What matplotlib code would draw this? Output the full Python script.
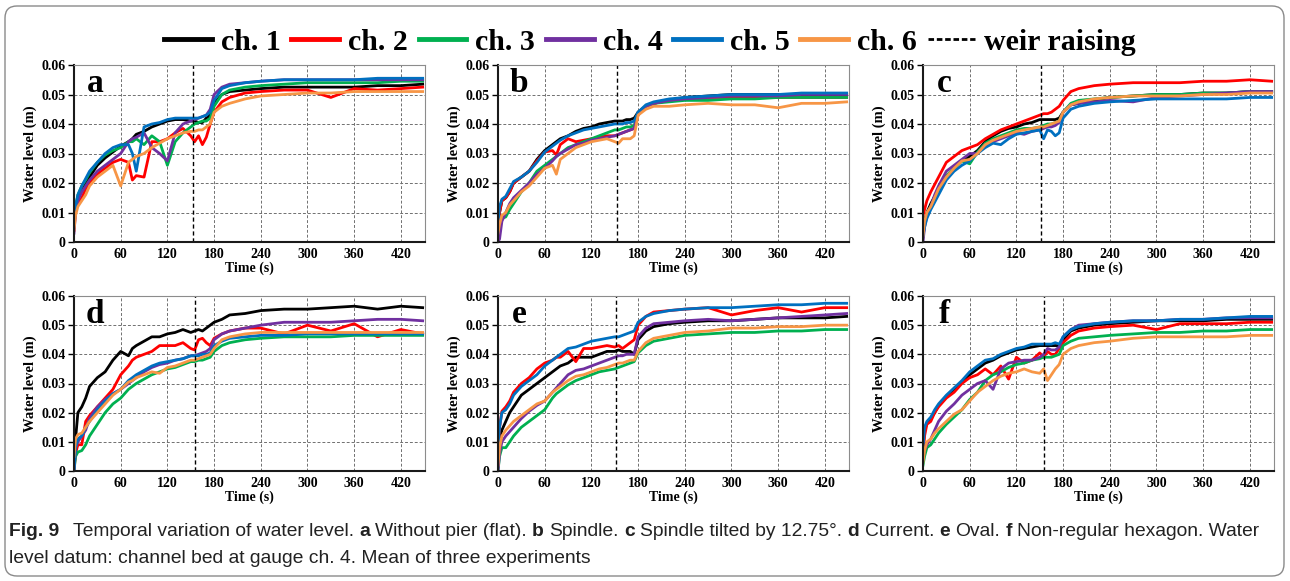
import matplotlib
matplotlib.use("Agg")
import matplotlib.pyplot as plt
from matplotlib.lines import Line2D
from matplotlib.patches import FancyBboxPatch
from matplotlib.transforms import IdentityTransform
from matplotlib.ticker import FuncFormatter

# time grid (s) shared by every curve, water levels in mm
TIME = [0, 2, 5, 10, 15, 20, 30, 40, 50, 60, 70, 75, 80, 90, 100, 110, 120, 130, 140,
        150, 155, 160, 165, 170, 175, 180, 190, 200, 220, 240, 270, 300, 330, 360,
        390, 420, 448]

# a - without pier (flat)
A1 = [5, 12, 15, 18, 20, 22, 26, 28.5, 30.5, 32.5, 34, 35, 36.5, 37.5, 39, 40, 41, 41.5, 41.5,
      41, 41, 40.5, 40.5, 42, 43, 47, 50, 51, 51.5, 52, 52.5, 52.5, 52.5, 52.5, 53, 53, 53.5]
A2 = [4, 11, 13, 15, 18, 20, 23, 25, 27, 28, 27, 21, 22.5, 22, 34, 34, 35, 37, 38.5,
      36, 34, 36, 33, 35.5, 40, 44, 47.5, 49, 50.5, 51, 51.5, 51.5, 49, 52, 51.5, 52, 52.5]
A3 = [5, 12, 16, 19, 21, 23.5, 27, 29.5, 31, 32, 34, 34, 35, 33, 36, 34, 26, 34, 37,
      39, 40, 40.5, 41, 41, 42, 46, 50, 51.5, 52.5, 53, 53.5, 54, 54, 54, 54, 54.5, 54.5]
A4 = [3, 10, 14, 17, 19, 21, 24, 26, 28, 30, 34, 35, 35.5, 37, 32, 30, 27.5, 37, 40,
      41, 41.5, 42, 42.5, 43, 45, 50, 52.5, 53.5, 54, 54.5, 55, 55, 55, 55, 55, 55, 55]
A5 = [6, 12, 16, 19, 21.5, 24, 27, 30, 32, 33, 33, 30, 24, 39, 40, 40.5, 41.5, 42, 42,
      42, 42, 42, 42.5, 43, 44, 48, 52, 53, 54, 54.5, 55, 55, 55, 55, 55.5, 55.5, 55.5]
A6 = [4, 9, 12, 14, 16, 19, 22, 24, 26, 19, 27, 28, 29, 30, 32, 33.5, 35, 36, 37,
      37.5, 37.5, 38, 38, 39, 40, 44, 46, 47, 48.5, 49.5, 50, 50.5, 50.5, 51, 51, 51, 51]

# b - spindle
B1 = [3, 10, 14, 15, 17, 20, 22, 24, 28, 31, 33, 34, 35, 36, 37.5, 38.5, 39, 40, 40.5,
      41, 41, 41, 41.5, 41.5, 42, 44, 46, 47, 48, 49, 49.5, 50, 50, 50, 50, 50, 50]
B2 = [3, 10, 14, 15, 17, 20, 22, 24, 27.5, 30.5, 31, 29.5, 33, 35, 34, 34.5, 35, 35.5, 36,
      36, 36.5, 37, 37.5, 38, 38.5, 43, 46, 47, 48, 48.5, 49, 49, 49, 49, 49, 49, 49]
B3 = [1, 5, 8, 8.5, 11, 13, 17, 20, 24, 26, 28, 29, 30, 32, 33, 34, 35, 36, 37,
      38, 38, 38.5, 39, 39, 39.5, 44, 46, 47, 47.5, 48, 48, 48.5, 48.5, 49, 49, 49, 49]
B4 = [0, 1, 7, 10, 13, 15, 17.5, 20, 23, 25, 27.5, 29, 30, 31.5, 33, 33.5, 34.5, 35, 35.5,
      36, 36.5, 37, 37.5, 38, 38.5, 44, 46, 47, 48, 48.5, 49, 49.5, 49.5, 49.5, 50, 50, 50]
B5 = [6, 12, 14.5, 15.5, 18, 20.5, 22, 24, 27, 30.5, 32.5, 33.5, 34.5, 36, 37, 38, 38.5, 39, 39.5,
      40, 40, 40, 40.5, 40.5, 41, 44, 46.5, 47.5, 48.5, 49, 49.5, 50, 50, 50, 50.5, 50.5, 50.5]
B6 = [3, 6, 9, 10, 12.5, 14, 17, 19, 22, 25, 26, 23, 28, 30, 32, 33, 34, 34.5, 35,
      34, 33.5, 35, 35, 35, 36, 43, 45, 46, 46, 46.5, 47, 46.5, 46.5, 45.5, 47, 47, 47.5]

# c - spindle tilted by 12.75 deg
C1 = [2, 7, 10, 13, 15.5, 18, 22, 25, 27.5, 29, 31, 32.5, 34, 36, 37.5, 38.5, 39, 40, 40.5,
      41.5, 41.5, 41.5, 41.5, 41.5, 42, 44, 46.5, 47, 48, 49, 49.5, 50, 50, 50.5, 50.5, 51, 51]
C2 = [9, 11, 14, 17, 19.5, 22, 27, 29, 31, 32, 33, 34, 35, 36.5, 38, 39, 40, 41, 42,
      43, 43.5, 43.5, 44, 45, 46, 48, 51, 52, 53, 53.5, 54, 54, 54, 54.5, 54.5, 55, 54.5]
C3 = [2, 6, 9, 12, 15, 18, 22.5, 25, 27.5, 26.5, 30.5, 32, 33.5, 35, 36, 37, 38, 38.5, 38.5,
      39, 39.5, 40, 40, 40.5, 41, 44, 47, 48, 48.5, 49, 49.5, 50, 50, 50.5, 50.5, 51, 51]
C4 = [0, 5, 9, 12, 16, 19, 24, 26, 28, 30, 30, 31.5, 33, 34, 35, 36, 37, 36.5, 37.5,
      38, 38.5, 39, 39, 39.5, 40.5, 44, 46.5, 47, 47.5, 48, 47.5, 49, 49.5, 50, 50.5, 51, 51]
C5 = [2, 5, 8, 11, 13.5, 16, 21, 24, 26, 27.5, 30, 31, 32, 33.5, 33, 35, 36.5, 37, 37.5,
      38, 35, 38, 37.5, 36, 37, 42, 45, 46, 47, 47.5, 48, 48.5, 48.5, 48.5, 48.5, 49, 49]
C6 = [2, 7, 10, 12, 15, 18, 22, 25, 27.5, 28, 30, 31.5, 33, 34.5, 35.5, 36.5, 37.5, 38, 38.5,
      39, 39, 39.5, 40, 40.5, 41, 44, 46.5, 47.5, 48.5, 49, 49.5, 49.5, 49.5, 50, 50, 50.5, 50.5]

# d - current
D1 = [5, 11, 20, 22, 25, 29, 32, 34, 38, 41, 39.5, 42, 43, 44.5, 46, 46, 47, 47.5, 48.5,
      47.5, 48, 48.5, 48, 49, 50, 51, 52, 53.5, 54, 55, 55.5, 55.5, 56, 56.5, 55.5, 56.5, 56]
D2 = [0, 6, 9, 9, 17, 19, 22, 25, 28, 33, 36, 38, 39, 40, 41, 43, 43, 43, 44,
      42, 41.5, 45, 45.5, 44, 43, 45.5, 47, 48, 49, 49, 47, 50, 48, 50.5, 46, 48.5, 47]
D3 = [0, 5, 6.5, 7, 9, 12, 16, 20, 23, 25, 28, 29, 30, 31.5, 33, 34, 35, 35.5, 36.5,
      37.5, 37.5, 38, 38, 38.5, 39, 41, 43, 44, 45, 45.5, 46, 46, 46, 46.5, 46.5, 46.5, 46.5]
D4 = [0, 8, 10, 12, 14, 18, 22, 24.5, 26.5, 28, 30, 31, 32, 34, 35.5, 36.5, 37, 38, 38.5,
      39.5, 39.5, 40, 40.5, 41, 42, 45, 47, 48, 49, 50, 51, 51, 51, 51.5, 52, 52, 51.5]
D5 = [0, 8, 11, 12, 15, 17, 21, 24, 26.5, 28, 31, 32, 33, 34.5, 36, 37, 37.5, 38, 38.5,
      39.5, 39.5, 39.5, 40, 40, 40.5, 43, 44.5, 45.5, 46, 46.5, 46.5, 47, 47, 47, 47, 47, 47]
D6 = [5, 11, 12.5, 13, 15, 17, 20, 23, 26, 28, 30.5, 31, 32, 33, 34, 33.5, 35.5, 36, 37,
      38, 38, 38.5, 39, 39.5, 40, 42, 45, 46, 47, 47.5, 47.5, 47.5, 47.5, 47.5, 47.5, 47.5, 47.5]

# e - oval
E1 = [5, 11, 14, 17, 20, 22, 26, 28, 30, 32, 34, 35, 36, 37, 39, 39, 39, 40, 41,
      41, 41.5, 41, 41, 41, 40, 45, 48, 49.5, 50.5, 51, 51.5, 51.5, 52, 52.5, 52.5, 52.5, 53]
E2 = [8, 15, 20.5, 22, 24, 27, 30, 32, 35, 37, 38, 39, 39, 41, 37.5, 42, 42, 42.5, 43,
      42.5, 43, 42, 43, 44, 45, 50, 53, 54.5, 55, 55.5, 56, 53.5, 55, 56, 54.5, 56, 56]
E3 = [0, 5, 8, 8, 10, 12, 15, 17, 19, 21, 25, 26.5, 27.5, 29.5, 31, 32, 33, 34, 34.5,
      35, 35.5, 36, 36.5, 37, 37.5, 40.5, 43, 44.5, 45.5, 46.5, 47, 47.5, 47.5, 48, 48, 48.5, 48.5]
E4 = [0, 6, 10, 12, 13.5, 15, 18, 20.5, 22.5, 24, 27, 28.5, 30, 33, 34.5, 35, 36, 37, 38,
      39, 39.5, 39.5, 40, 40, 40, 46, 49, 50.5, 51, 51.5, 52, 51.5, 52, 52.5, 53, 53.5, 54]
E5 = [8, 15, 20, 21, 23, 26, 29, 31, 33, 36, 38, 39, 40, 42, 42.5, 43.5, 44.5, 45, 45.5,
      46, 46, 46.5, 47, 47.5, 48, 51, 53, 54, 55, 55.5, 56, 56, 56.5, 57, 57, 57.5, 57.5]
E6 = [2, 8, 12, 14, 15.5, 17, 19, 21, 23, 24, 27, 28, 29, 31, 32.5, 33, 34, 35, 35.5,
      36.5, 37, 37, 37.5, 38, 38, 41, 44, 45.5, 46.5, 47.5, 48, 49, 49, 49.5, 49.5, 50, 50]

# f - non-regular hexagon
F1 = [8, 14, 16.5, 18, 20, 22.5, 25.5, 28, 30.5, 33, 35, 36, 37, 38, 39.5, 40.5, 41.5, 42, 42.5,
      43, 43, 43, 43, 43, 43, 45, 48, 49, 50, 50.5, 51, 51.5, 51.5, 51.5, 52, 52, 52]
F2 = [5, 12, 16, 17, 20, 22, 25, 27, 30, 32, 33, 34, 35, 33, 36, 31.5, 39, 37, 38,
      40.5, 39, 41, 40, 40, 42, 44, 46.5, 48, 49, 49.5, 50, 48.5, 50.5, 50.5, 50.5, 51, 51]
F3 = [2, 5, 8, 9, 11, 13, 16, 18.5, 21, 24.5, 27, 29, 31, 33, 34, 35.5, 36.5, 37, 38,
      38.5, 39, 39, 39, 39.5, 40, 43, 44.5, 45.5, 46, 46.5, 47, 47.5, 47.5, 48, 48, 48.5, 48.5]
F4 = [4, 7, 9, 11, 14, 17, 20.5, 23, 26, 28, 30, 30.5, 31, 28, 35, 37, 37.5, 38, 38,
      39, 40, 42, 41.5, 41.5, 42.5, 46, 48.5, 50, 50.5, 51, 51.5, 51.5, 52, 52, 52.5, 52.5, 52.5]
F5 = [8, 15, 17, 18.5, 21, 23, 26, 28.5, 31, 34, 36, 37, 38, 38.5, 40, 41, 42, 42.5, 43.5,
      43.5, 43.5, 43.5, 43.5, 44, 43.5, 46, 48.5, 49.5, 50.5, 51, 51.5, 51.5, 52, 52, 52.5, 53, 53]
F6 = [3, 7, 10, 11, 13, 14.5, 17, 19.5, 21, 24, 27, 28, 29, 31, 32.5, 33.5, 34, 35, 34,
      33.5, 35, 31, 33, 35, 36.5, 40, 42, 43, 44, 44.5, 45.5, 46, 46, 46, 46, 46.5, 46.5]

WEIR_T = [153, 153, 152, 155, 151, 155]
LETTERS = ["a", "b", "c", "d", "e", "f"]
LABELS = ["ch. 1", "ch. 2", "ch. 3", "ch. 4", "ch. 5", "ch. 6", "weir raising"]
COLORS = ["#000000", "#ff0000", "#00b050", "#7030a0", "#0070c0", "#f79646"]

SERIF = "Liberation Serif"
CAP_FONT = ["Liberation Sans", "DejaVu Sans"]

W, H = 1290, 581
fig = plt.figure(figsize=(W / 100, H / 100), dpi=100)

# axes boxes in pixels: left, top, width, height
lefts = [74, 498, 923]
tops = [65, 296]
heights = [177, 175]
aw = 351

all_series = [[A1, A2, A3, A4, A5, A6], [B1, B2, B3, B4, B5, B6], [C1, C2, C3, C4, C5, C6],
              [D1, D2, D3, D4, D5, D6], [E1, E2, E3, E4, E5, E6], [F1, F2, F3, F4, F5, F6]]

for i, series in enumerate(all_series):
    row, col = divmod(i, 3)
    l, t, h = lefts[col], tops[row], heights[row]
    ax = fig.add_axes([l / W, 1 - (t + h) / H, aw / W, h / H])
    for vals, c in zip(series, COLORS):
        ax.plot(TIME, [v / 1000 for v in vals], color=c, lw=2.0, solid_joinstyle="round")
    ax.axvline(WEIR_T[i], color="black", lw=1.0, ls=(0, (3, 2)))
    ax.set_xlim(0, 451)
    ax.set_ylim(0, 0.06)
    ax.set_xticks(range(0, 421, 60))
    ax.set_yticks([0, 0.01, 0.02, 0.03, 0.04, 0.05, 0.06])
    ax.yaxis.set_major_formatter(FuncFormatter(lambda v, p: "0" if v == 0 else "%.2f" % v))
    ax.grid(True, color="#707070", lw=0.7, ls=(0, (3, 2)))
    ax.set_axisbelow(True)
    for s in ["top", "right"]:
        ax.spines[s].set_color("#8c8c8c")
        ax.spines[s].set_linewidth(0.8)
    for s in ["left", "bottom"]:
        ax.spines[s].set_color("#1a1a1a")
        ax.spines[s].set_linewidth(1.5)
    ax.tick_params(axis="y", length=4, width=1.0, pad=2, labelsize=10)
    ax.tick_params(axis="x", length=0, pad=4, labelsize=10)
    for lab in ax.get_xticklabels() + ax.get_yticklabels():
        lab.set_family(SERIF)
        lab.set_fontweight("bold")
    ax.set_xlabel("Time (s)", family=SERIF, fontweight="bold", fontsize=10, labelpad=1)
    ax.set_ylabel("Water level (m)", family=SERIF, fontweight="bold", fontsize=10.5, labelpad=3)
    ax.text(0.06, 0.895, LETTERS[i], transform=ax.transAxes, ha="center", va="center",
            family=SERIF, fontweight="bold", fontsize=24)

# legend on top
handles = [Line2D([], [], color=c, lw=3.5) for c in COLORS]
handles.append(Line2D([], [], color="black", lw=2, ls=(0, (2, 1))))
fig.legend(handles, LABELS, loc="center", bbox_to_anchor=(650 / W, 1 - 42 / H), ncol=7,
           frameon=False, prop=dict(family=SERIF, weight="bold", size=21.5),
           handlelength=1.6, handletextpad=0.3, columnspacing=0.36)

# caption with mixed weights
renderer = fig.canvas.get_renderer()
CAP_SIZE = 13.9


def text_width(s, bold):
    t = fig.text(0, 0, s, fontsize=CAP_SIZE, fontweight="bold" if bold else "normal", family=CAP_FONT)
    w = t.get_window_extent(renderer).width
    t.remove()
    return w


space_w = text_width("x x", False) - text_width("xx", False)


def rich_line(x, y, pieces):
    for s, bold, gap in pieces:
        t = fig.text(x / W, 1 - y / H, s, fontsize=CAP_SIZE, va="baseline", color="#222222",
                     fontweight="bold" if bold else "normal", family=CAP_FONT)
        x += t.get_window_extent(renderer).width + gap * space_w


rich_line(9, 536, [
    ("Fig. 9", True, 2.5), ("Temporal variation of water level.", False, 1),
    ("a", True, 1), ("Without pier (flat).", False, 1), ("b", True, 1), ("Spindle.", False, 1),
    ("c", True, 1), ("Spindle tilted by 12.75°.", False, 1), ("d", True, 1), ("Current.", False, 1),
    ("e", True, 1), ("Oval.", False, 1), ("f", True, 1), ("Non-regular hexagon. Water", False, 0)])
rich_line(9, 563, [("level datum: channel bed at gauge ch. 4. Mean of three experiments", False, 0)])

# rounded frame around the figure
frame = FancyBboxPatch((5, 5), 1279, 570, boxstyle="round,pad=0,rounding_size=12",
                       transform=IdentityTransform(), fill=False, edgecolor="#8a8a8a", lw=1.0)
fig.add_artist(frame)

fig.savefig("out.png", dpi=100)
